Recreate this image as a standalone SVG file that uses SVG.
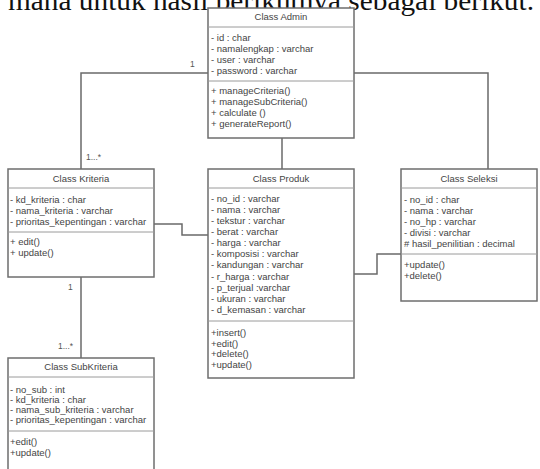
<svg xmlns="http://www.w3.org/2000/svg" width="540" height="469" viewBox="0 0 540 469">
<style>
.box{fill:#fff;stroke:#6e6e6e;stroke-width:1.5}
.div{stroke:#9a9a9a;stroke-width:1}
.t{font-family:"Liberation Sans",Arial,sans-serif;font-size:9.5px;fill:#444}
.h{font-family:"Liberation Sans",Arial,sans-serif;font-size:9.5px;fill:#444;text-anchor:middle}
.lbl{font-family:"Liberation Sans",Arial,sans-serif;font-size:8.5px;fill:#555}
.c{fill:none;stroke:#6a6a6a;stroke-width:1.5}
.top{font-family:"Liberation Serif","Times New Roman",serif;font-size:28px;fill:#111}
</style>
<rect width="540" height="469" fill="#fff"/>
<text class="top" x="8" y="10" textLength="526" lengthAdjust="spacingAndGlyphs">mana untuk hasil berikutnya sebagai berikut.</text>
<g id="connectors">
<polyline class="c" points="208,73 81,73 81,169"/>
<polyline class="c" points="354,73 488,73 488,169"/>
<line class="c" x1="282" y1="138" x2="282" y2="169"/>
<polyline class="c" points="154,224 182,224 182,235 208,235"/>
<polyline class="c" points="354,274 377,274 377,254 401,254"/>
<line class="c" x1="81" y1="277" x2="81" y2="358"/>
<text class="lbl" x="190" y="67">1</text>
<text class="lbl" x="86" y="160">1...*</text>
<text class="lbl" x="68" y="290">1</text>
<text class="lbl" x="58" y="349">1...*</text>
</g>
<g id="admin">
<rect class="box" x="208" y="8" width="146" height="130"/>
<line class="div" x1="208" y1="27" x2="354" y2="27"/>
<line class="div" x1="208" y1="81" x2="354" y2="81"/>
<text class="h" x="281" y="20">Class Admin</text>
<text class="t" x="211" y="41">- id : char</text>
<text class="t" x="211" y="52">- namalengkap : varchar</text>
<text class="t" x="211" y="63">- user : varchar</text>
<text class="t" x="211" y="74">- password : varchar</text>
<text class="t" x="211" y="94">+ manageCriteria()</text>
<text class="t" x="211" y="105">+ manageSubCriteria()</text>
<text class="t" x="211" y="116">+ calculate ()</text>
<text class="t" x="211" y="127">+ generateReport()</text>
</g>
<g id="kriteria">
<rect class="box" x="8" y="169" width="146" height="108"/>
<line class="div" x1="8" y1="188" x2="154" y2="188"/>
<line class="div" x1="8" y1="232" x2="154" y2="232"/>
<text class="h" x="81" y="182">Class Kriteria</text>
<text class="t" x="10" y="203">- kd_kriteria : char</text>
<text class="t" x="10" y="214">- nama_kriteria : varchar</text>
<text class="t" x="10" y="225">- prioritas_kepentingan : varchar</text>
<text class="t" x="10" y="245">+ edit()</text>
<text class="t" x="10" y="256">+ update()</text>
</g>
<g id="produk">
<rect class="box" x="208" y="169" width="146" height="209"/>
<line class="div" x1="208" y1="188" x2="354" y2="188"/>
<line class="div" x1="208" y1="321" x2="354" y2="321"/>
<text class="h" x="281" y="182">Class Produk</text>
<text class="t" x="211" y="202">- no_id : varchar</text>
<text class="t" x="211" y="213">- nama : varchar</text>
<text class="t" x="211" y="224">- tekstur : varchar</text>
<text class="t" x="211" y="235">- berat : varchar</text>
<text class="t" x="211" y="246">- harga : varchar</text>
<text class="t" x="211" y="257">- komposisi : varchar</text>
<text class="t" x="211" y="268">- kandungan : varchar</text>
<text class="t" x="211" y="280">- r_harga : varchar</text>
<text class="t" x="211" y="291">- p_terjual :varchar</text>
<text class="t" x="211" y="302">- ukuran : varchar</text>
<text class="t" x="211" y="313">- d_kemasan : varchar</text>
<text class="t" x="211" y="336">+insert()</text>
<text class="t" x="211" y="347">+edit()</text>
<text class="t" x="211" y="357">+delete()</text>
<text class="t" x="211" y="368">+update()</text>
</g>
<g id="seleksi">
<rect class="box" x="401" y="169" width="136" height="132"/>
<line class="div" x1="401" y1="188" x2="537" y2="188"/>
<line class="div" x1="401" y1="254" x2="537" y2="254"/>
<text class="h" x="469" y="182">Class Seleksi</text>
<text class="t" x="404" y="203">- no_id : char</text>
<text class="t" x="404" y="214">- nama : varchar</text>
<text class="t" x="404" y="225">- no_hp : varchar</text>
<text class="t" x="404" y="236">- divisi : varchar</text>
<text class="t" x="404" y="247"># hasil_penilitian : decimal</text>
<text class="t" x="404" y="268">+update()</text>
<text class="t" x="404" y="279">+delete()</text>
</g>
<g id="subkriteria">
<rect class="box" x="8" y="358" width="146" height="120"/>
<line class="div" x1="8" y1="377" x2="154" y2="377"/>
<line class="div" x1="8" y1="431" x2="154" y2="431"/>
<text class="h" x="81" y="370">Class SubKriteria</text>
<text class="t" x="10" y="393">- no_sub : int</text>
<text class="t" x="10" y="403">- kd_kriteria : char</text>
<text class="t" x="10" y="413">- nama_sub_kriteria : varchar</text>
<text class="t" x="10" y="423">- prioritas_kepentingan : varchar</text>
<text class="t" x="10" y="445">+edit()</text>
<text class="t" x="10" y="456">+update()</text>
</g>
</svg>
